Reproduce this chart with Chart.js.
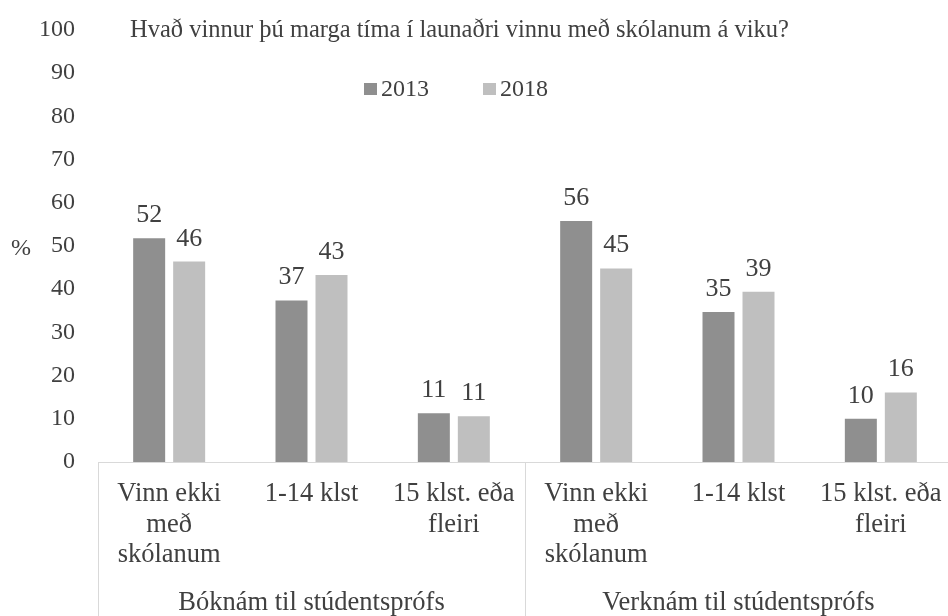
<!DOCTYPE html>
<html>
<head>
<meta charset="utf-8">
<script src="https://cdn.jsdelivr.net/npm/chart.js@4/dist/chart.umd.min.js"></script>
<style>
  html, body { margin: 0; padding: 0; background: #ffffff; overflow: hidden; width: 948px; height: 616px; }
  canvas { display: block; }
</style>
</head>
<body>
<canvas id="c" width="952" height="616"></canvas>
<script>
// ---- data ----
const titleText = 'Hvað vinnur þú marga tíma í launaðri vinnu með skólanum á viku?';
const categories = [
  ['Vinn ekki', 'með', 'skólanum'], '1-14 klst', ['15 klst. eða', 'fleiri'],
  ['Vinn ekki', 'með', 'skólanum'], '1-14 klst', ['15 klst. eða', 'fleiri']
];
const groupLabels = ['Bóknám til stúdentsprófs', 'Verknám til stúdentsprófs'];
const seriesNames = ['2013', '2018'];
const values2013 = [51.8, 37.4, 11.3, 55.8, 34.7, 10.0];
const values2018 = [46.4, 43.3, 10.6, 44.8, 39.4, 16.1];
const yTickMin = 0, yTickMax = 100, yTickStep = 10;
const yUnit = '%';

const FONT = "'Liberation Serif', 'Times New Roman', serif";
const TEXT = '#404040';
const COL_A = '#8f8f8f';
const COL_B = '#bfbfbf';
const LINE = '#d9d9d9';

const extras = {
  id: 'extras',
  afterDraw(chart) {
    const ctx = chart.ctx;
    const ca = chart.chartArea;
    const x = chart.scales.x;
    const H = chart.height;
    ctx.save();
    // separators
    const mid = (x.getPixelForValue(2) + x.getPixelForValue(3)) / 2;
    ctx.strokeStyle = LINE;
    ctx.lineWidth = 1;
    [ca.left, mid, ca.right].forEach(px => {
      const xx = Math.round(px) + 0.5;
      ctx.beginPath();
      ctx.moveTo(xx, ca.bottom);
      ctx.lineTo(xx, H);
      ctx.stroke();
    });
    // group labels
    ctx.fillStyle = TEXT;
    ctx.font = "26.5px " + FONT;
    ctx.textAlign = 'center';
    ctx.textBaseline = 'alphabetic';
    ctx.fillText(groupLabels[0], (ca.left + mid) / 2, 610);
    ctx.fillText(groupLabels[1], (mid + ca.right) / 2, 610);
    // title
    ctx.font = "24.5px " + FONT;
    ctx.textAlign = 'left';
    ctx.fillText(titleText, 130, 37);
    // unit
    ctx.font = "24px " + FONT;
    ctx.textAlign = 'center';
    ctx.fillText(yUnit, 21, 255);
    // legend
    const legendX = [364, 483];
    chart.data.datasets.forEach((ds, i) => {
      ctx.fillStyle = ds.backgroundColor;
      ctx.fillRect(legendX[i], 83, 13, 12);
      ctx.fillStyle = TEXT;
      ctx.textAlign = 'left';
      ctx.font = "24px " + FONT;
      ctx.fillText(ds.label, legendX[i] + 17, 96);
    });
    // data labels
    ctx.font = "26px " + FONT;
    ctx.textAlign = 'center';
    chart.data.datasets.forEach((ds, i) => {
      const meta = chart.getDatasetMeta(i);
      meta.data.forEach((bar, j) => {
        ctx.fillText(String(Math.round(ds.data[j])), bar.x, bar.y - 16);
      });
    });
    ctx.restore();
  }
};

new Chart(document.getElementById('c'), {
  type: 'bar',
  data: {
    labels: categories,
    datasets: [
      { label: seriesNames[0], data: values2013, backgroundColor: COL_A, barPercentage: 0.8, categoryPercentage: 0.562 },
      { label: seriesNames[1], data: values2018, backgroundColor: COL_B, barPercentage: 0.8, categoryPercentage: 0.562 }
    ]
  },
  options: {
    responsive: false,
    devicePixelRatio: 1,
    animation: false,
    layout: { padding: { top: 30, left: 0, right: 0, bottom: 0 } },
    plugins: { legend: { display: false }, title: { display: false }, tooltip: { enabled: false } },
    scales: {
      x: {
        grid: { display: false, drawTicks: false },
        border: { display: true, color: LINE, width: 1 },
        ticks: {
          color: TEXT, font: { family: FONT, size: 26.5, lineHeight: 1.15 },
          padding: 17, maxRotation: 0, minRotation: 0, autoSkip: false
        },
        afterFit(scale) { scale.height = 154; scale.paddingLeft = 0; scale.paddingRight = 0; }
      },
      y: {
        min: yTickMin, max: yTickMax,
        grid: { display: false, drawTicks: false },
        border: { display: false },
        ticks: { stepSize: yTickStep, color: TEXT, font: { family: FONT, size: 24 }, padding: 23 },
        afterFit(scale) { scale.width = 98; scale.paddingTop = 0; scale.paddingBottom = 0; }
      }
    }
  },
  plugins: [extras]
});
</script>
</body>
</html>
